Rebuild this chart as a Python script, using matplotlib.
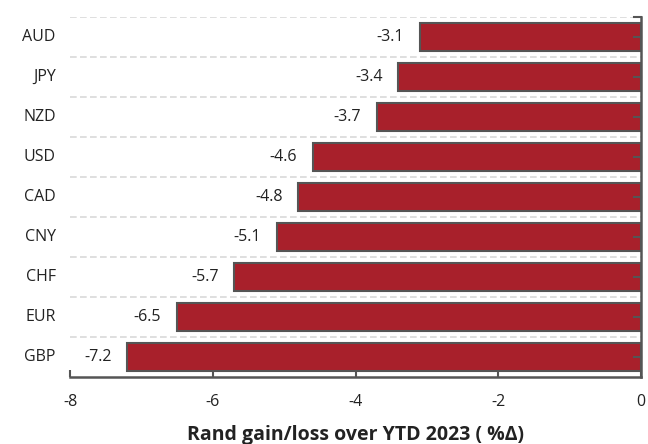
import matplotlib.pyplot as plt
import numpy as np

plt.rcParams['font.family'] = ['Open Sans', 'DejaVu Sans']

moedas = ["AUD", "JPY", "NZD", "USD", "CAD", "CNY", "CHF", "EUR", "GBP"]
valores = [-3.1, -3.4, -3.7, -4.6, -4.8, -5.1, -5.7, -6.5, -7.2]
xticks = [-8, -6, -4, -2, 0]

fig = plt.figure(figsize=(6.48, 4.44), dpi=100)
ax = fig.add_axes([70 / 648, 1 - 377 / 444, 571 / 648, 360 / 444])

y = np.arange(len(moedas))
ax.barh(y, valores, height=0.72, color="#A8202B", edgecolor="#555555",
        linewidth=1.5, zorder=3)

# rotulos de valor a esquerda de cada barra
for yi, v in zip(y, valores):
    ax.text(v - 0.22, yi, f"{v:.1f}", ha="right", va="center",
            fontsize=11.5, color="#222222")

# linhas tracejadas entre as categorias
for b in np.arange(-0.5, len(moedas) - 0.5, 1.0):
    ax.axhline(b, color="#d9d9d9", linestyle=(0, (4, 2)), lw=1.2, zorder=1)

ax.set_xlim(-8, 0)
ax.set_ylim(len(moedas) - 0.5, -0.5)
ax.set_yticks([])
ax.set_xticks(xticks)
ax.set_xticklabels([str(t) for t in xticks], fontsize=11.5, color="#222222")
ax.tick_params(axis="x", direction="in", length=5, width=1.5, color="#555555",
               pad=12)

for i, m in enumerate(moedas):
    ax.text(-8.2, i, m, ha="right", va="center", fontsize=11.5,
            color="#222222")

# eixo vertical no zero com marcas nas categorias
for s in ["top", "left"]:
    ax.spines[s].set_visible(False)
ax.spines["right"].set_color("#555555")
ax.spines["right"].set_linewidth(1.8)
ax.spines["bottom"].set_color("#555555")
ax.spines["bottom"].set_linewidth(1.8)
for yi in y:
    ax.plot([-0.1, 0], [yi, yi], color="#555555", lw=1.5, clip_on=False,
            zorder=4)
ax.plot([-0.1, 0], [-0.5, -0.5], color="#555555", lw=1.5, clip_on=False,
        zorder=4)

ax.set_xlabel("Rand gain/loss over YTD 2023 ( %Δ)", fontsize=14,
              fontweight="bold", color="#222222", labelpad=11)

fig.savefig("out.png", dpi=100)
